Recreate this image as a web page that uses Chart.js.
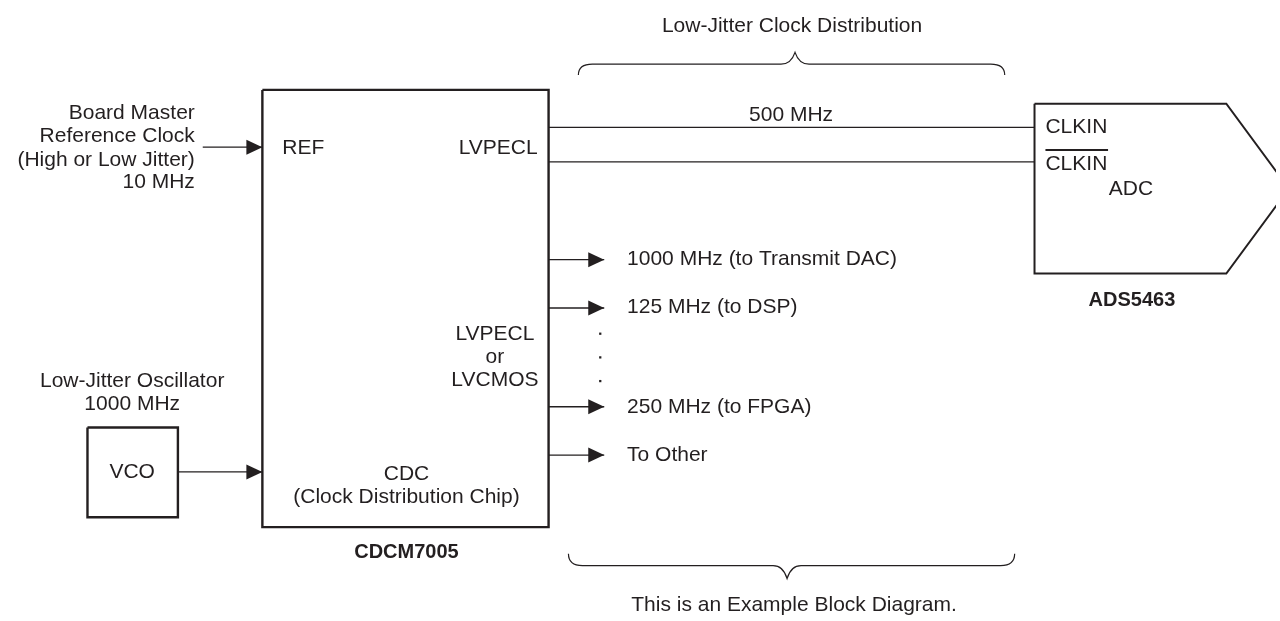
<!DOCTYPE html>
<html>
<head>
<meta charset="utf-8">
<script src="https://cdn.jsdelivr.net/npm/chart.js@4.4.1/dist/chart.umd.min.js"></script>
<style>
  html, body { margin: 0; padding: 0; background: #ffffff; }
  #wrap { width: 1280px; height: 621px; }
</style>
</head>
<body>
<div id="wrap"><canvas id="diagram"></canvas></div>
<script>
// Coordinate del diagramma (unita' = pixel del disegno, y verso il basso)
const INK = '#231f20';

// Blocchi rettangolari: [x0, y0, x1, y1]
const blocks = [
    [260, 87, 548, 530],   // CDCM7005
    [84, 429, 175, 520]    // VCO
];

// Contorno ADC (pentagono)
const adcOutline = [[1037, 101], [1230, 101], [1293, 187], [1230, 273], [1037, 273], [1037, 101]];

// Linee LVPECL verso l'ADC
const wires = [
    [[548, 125], [1037, 125]],
    [[548, 160], [1037, 160]]
];

// Sopralineatura di CLKIN negato
const overline = [[1048, 148], [1111, 148]];

// Frecce: [inizio, punta]
const arrows = [
    [[200, 145], [260, 145]],
    [[175, 474], [260, 474]],
    [[548, 259], [604, 259]],
    [[548, 308], [604, 308]],
    [[548, 408], [604, 408]],
    [[548, 457], [604, 457]]
];

// Puntini verticali
const dots = [[600, 334], [600, 358], [600, 382]];

// Parentesi graffe: x0, x1, xPunta, yRiga, yEstremi, yPunta
const braces = [
    [578, 1007, 796, 61, 72, 49],
    [568, 1017, 788, 569, 557, 582]
];

// Testi: [testo, x, y, allineamento, grassetto]
const labels = [
    ['Low-Jitter Clock Distribution', 793, 22, 'center', false],
    ['500 MHz', 792, 113, 'center', false],
    ['Board Master', 192, 111, 'right', false],
    ['Reference Clock', 192, 134, 'right', false],
    ['(High or Low Jitter)', 192, 158, 'right', false],
    ['10 MHz', 192, 181, 'right', false],
    ['REF', 280, 146, 'left', false],
    ['LVPECL', 537, 146, 'right', false],
    ['CLKIN', 1048, 125, 'left', false],
    ['CLKIN', 1048, 162, 'left', false],
    ['ADC', 1134, 188, 'center', false],
    ['ADS5463', 1135, 300, 'center', true],
    ['1000 MHz (to Transmit DAC)', 627, 259, 'left', false],
    ['125 MHz (to DSP)', 627, 307, 'left', false],
    ['250 MHz (to FPGA)', 627, 408, 'left', false],
    ['To Other', 627, 457, 'left', false],
    ['LVPECL', 494, 335, 'center', false],
    ['or', 494, 358, 'center', false],
    ['LVCMOS', 494, 381, 'center', false],
    ['Low-Jitter Oscillator', 129, 382, 'center', false],
    ['1000 MHz', 129, 405, 'center', false],
    ['VCO', 129, 474, 'center', false],
    ['CDC', 405, 476, 'center', false],
    ['(Clock Distribution Chip)', 405, 500, 'center', false],
    ['CDCM7005', 405, 556, 'center', true],
    ['This is an Example Block Diagram.', 795, 609, 'center', false]
];

const toPts = arr => arr.map(p => ({ x: p[0], y: p[1] }));

function rectPts(b) {
    return toPts([[b[0], b[1]], [b[2], b[1]], [b[2], b[3]], [b[0], b[3]], [b[0], b[1]]]);
}

function strokeSet(points, width) {
    return {
        type: 'line',
        data: points,
        borderColor: INK,
        borderWidth: width,
        pointRadius: 0,
        fill: false,
        tension: 0,
        borderJoinStyle: 'miter',
        borderCapStyle: 'butt'
    };
}

const datasets = [];
blocks.forEach(b => datasets.push(strokeSet(rectPts(b), 2.4)));
datasets.push(strokeSet(toPts(adcOutline), 2));
wires.forEach(w => datasets.push(strokeSet(toPts(w), 1.3)));
datasets.push(strokeSet(toPts(overline), 2));
arrows.forEach(a => datasets.push(strokeSet(toPts(a), 1.4)));
datasets.push({
    type: 'scatter',
    data: toPts(dots),
    pointStyle: 'rect',
    pointRadius: 1.6,
    backgroundColor: INK,
    borderWidth: 0
});

// Plugin per punte di freccia, graffe e testi
const diagramPlugin = {
    id: 'diagram',
    afterDatasetsDraw(chart) {
        const ctx = chart.ctx;
        const sx = chart.scales.x, sy = chart.scales.y;
        const px = v => sx.getPixelForValue(v);
        const py = v => sy.getPixelForValue(v);
        ctx.save();

        // punte di freccia
        ctx.fillStyle = INK;
        arrows.forEach(a => {
            const tx = px(a[1][0]), ty = py(a[1][1]);
            ctx.beginPath();
            ctx.moveTo(tx, ty);
            ctx.lineTo(tx - 16, ty - 7.5);
            ctx.lineTo(tx - 16, ty + 7.5);
            ctx.closePath();
            ctx.fill();
        });

        // graffe
        ctx.strokeStyle = INK;
        ctx.lineWidth = 1.2;
        braces.forEach(b => {
            const x0 = px(b[0]), x1 = px(b[1]), xm = px(b[2]);
            const yl = py(b[3]), ye = py(b[4]), yt = py(b[5]);
            const r = 14;
            ctx.beginPath();
            ctx.moveTo(x0, ye);
            ctx.quadraticCurveTo(x0, yl, x0 + r, yl);
            ctx.lineTo(xm - r, yl);
            ctx.quadraticCurveTo(xm - 4, yl, xm, yt);
            ctx.quadraticCurveTo(xm + 4, yl, xm + r, yl);
            ctx.lineTo(x1 - r, yl);
            ctx.quadraticCurveTo(x1, yl, x1, ye);
            ctx.stroke();
        });

        // testi
        ctx.fillStyle = INK;
        ctx.textBaseline = 'middle';
        labels.forEach(l => {
            ctx.font = (l[4] ? 'bold 20px' : '21px') + ' "Liberation Sans", Arial, sans-serif';
            ctx.textAlign = l[3];
            ctx.fillText(l[0], px(l[1]), py(l[2]));
        });
        ctx.restore();
    }
};

new Chart(document.getElementById('diagram'), {
    type: 'line',
    data: { datasets: datasets },
    options: {
        responsive: true,
        maintainAspectRatio: false,
        animation: false,
        layout: { padding: 0 },
        scales: {
            x: { type: 'linear', min: 0, max: 1280, display: false },
            y: { type: 'linear', min: 0, max: 621, reverse: true, display: false }
        },
        plugins: {
            legend: { display: false },
            tooltip: { enabled: false }
        }
    },
    plugins: [diagramPlugin]
});
</script>
</body>
</html>
